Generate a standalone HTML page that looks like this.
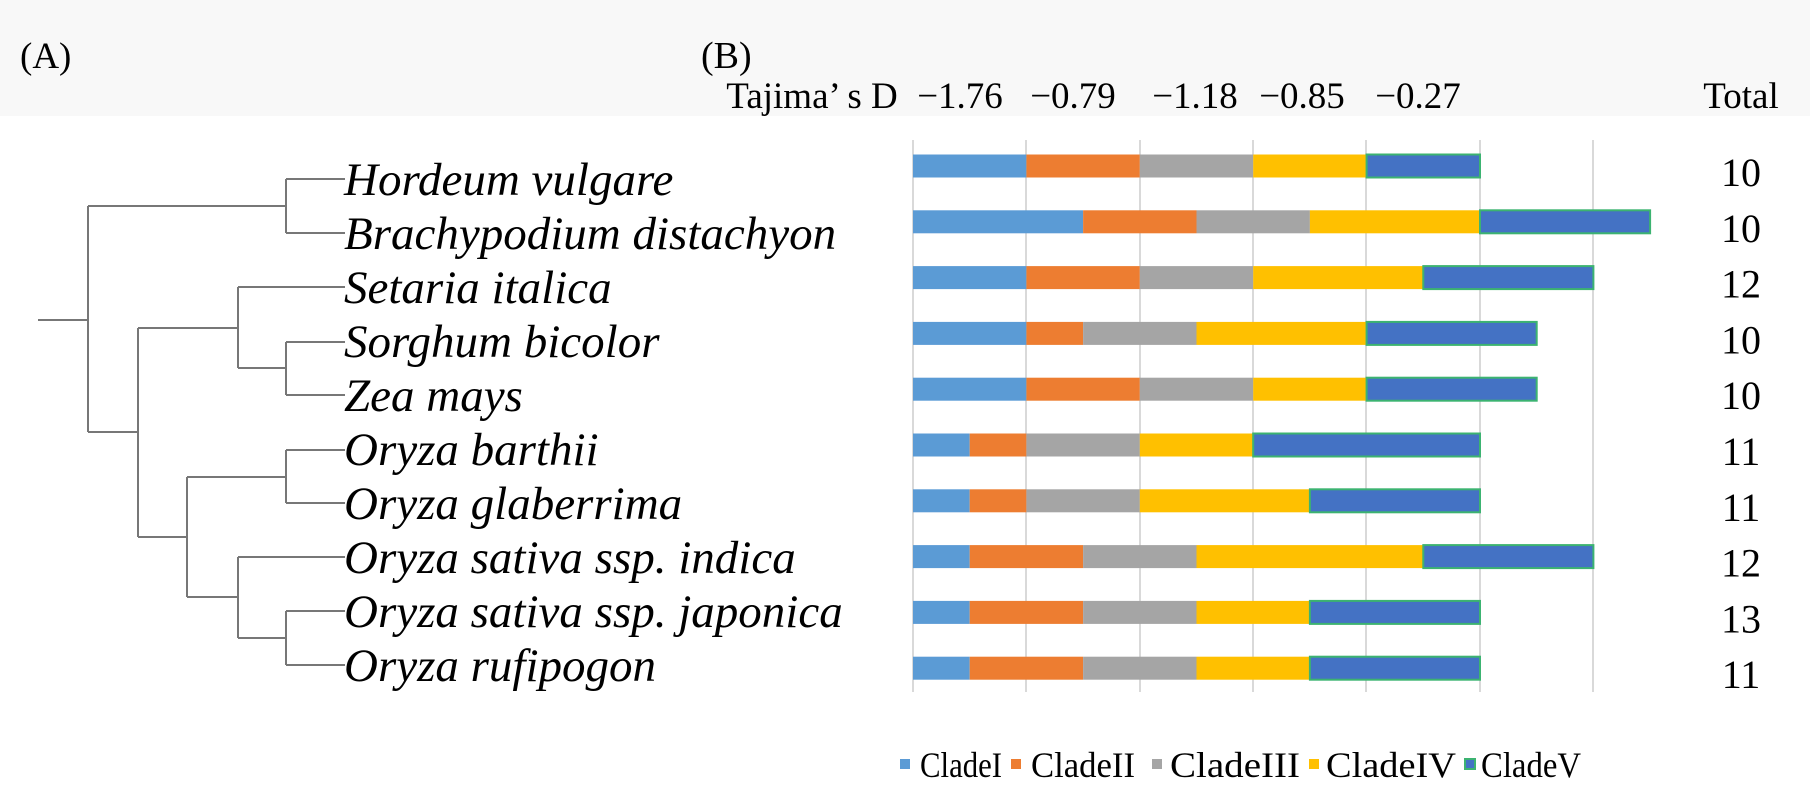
<!DOCTYPE html>
<html><head><meta charset="utf-8"><style>
html,body{margin:0;padding:0;background:#fff;}
svg{display:block;font-family:"Liberation Serif",serif;}
</style></head><body>
<svg width="1810" height="802" viewBox="0 0 1810 802" xmlns="http://www.w3.org/2000/svg">
<rect x="0" y="0" width="1810" height="116" fill="#f8f8f8"/>
<rect x="0" y="116" width="1810" height="686" fill="#fff"/>
<text x="20" y="68" font-size="37">(A)</text>
<text x="701" y="68" font-size="38">(B)</text>
<g font-size="37" text-anchor="middle">
<text x="812" y="108">Tajima’ s D</text>
<text x="960" y="108">−1.76</text>
<text x="1073" y="108">−0.79</text>
<text x="1195" y="108">−1.18</text>
<text x="1302" y="108">−0.85</text>
<text x="1418" y="108">−0.27</text>
<text x="1741" y="108">Total</text>
</g>
<g stroke="#777" stroke-width="2" fill="none">
<path d="M38 320H88M88 206V432M88 206H286M286 179V233M286 179H345M286 233H345"/>
<path d="M88 432H138M138 328V537M138 328H238M238 287V368M238 287H345M238 368H286M286 342V395M286 342H345M286 395H345"/>
<path d="M138 537H187M187 477V597M187 477H286M286 450V503M286 450H345M286 503H345"/>
<path d="M187 597H238M238 557V638M238 557H345M238 638H286M286 611V665M286 611H345M286 665H345"/>
</g>
<g font-size="47" font-style="italic">
<text x="344" y="195">Hordeum vulgare</text>
<text x="344" y="249">Brachypodium distachyon</text>
<text x="344" y="303">Setaria italica</text>
<text x="344" y="357">Sorghum bicolor</text>
<text x="344" y="411">Zea mays</text>
<text x="344" y="465">Oryza barthii</text>
<text x="344" y="519">Oryza glaberrima</text>
<text x="344" y="573">Oryza sativa ssp. indica</text>
<text x="344" y="627">Oryza sativa ssp. japonica</text>
<text x="344" y="681">Oryza rufipogon</text>
</g>
<g stroke="#d9d9d9" stroke-width="2">
<line x1="913" y1="140" x2="913" y2="692"/><line x1="1026" y1="140" x2="1026" y2="692"/>
<line x1="1140" y1="140" x2="1140" y2="692"/><line x1="1253" y1="140" x2="1253" y2="692"/>
<line x1="1366" y1="140" x2="1366" y2="692"/><line x1="1480" y1="140" x2="1480" y2="692"/>
<line x1="1593" y1="140" x2="1593" y2="692"/>
</g>
<g id="bars"></g>
<g font-size="40" text-anchor="middle" id="totals"></g>
<g font-size="36">
<rect x="900" y="759" width="10" height="10" fill="#5b9bd5"/><text x="920" y="777" textLength="82" lengthAdjust="spacingAndGlyphs">CladeI</text>
<rect x="1011" y="759" width="10" height="10" fill="#ed7d31"/><text x="1031" y="777" textLength="104" lengthAdjust="spacingAndGlyphs">CladeII</text>
<rect x="1152" y="759" width="10" height="10" fill="#a5a5a5"/><text x="1170" y="777" textLength="130" lengthAdjust="spacingAndGlyphs">CladeIII</text>
<rect x="1309" y="759" width="10" height="10" fill="#ffc000"/><text x="1326" y="777" textLength="130" lengthAdjust="spacingAndGlyphs">CladeIV</text>
<rect x="1465" y="759" width="10" height="10" fill="#4472c4" stroke="#3cb371" stroke-width="2"/><text x="1481" y="777" textLength="100" lengthAdjust="spacingAndGlyphs">CladeV</text>
</g>
<script>
(function(){
var d=[[2,2,2,2,2],[3,2,2,3,3],[2,2,2,3,3],[2,1,2,3,3],[2,2,2,2,3],[1,1,2,2,4],[1,1,2,3,3],[1,2,2,4,3],[1,2,2,2,3],[1,2,2,2,3]];
var tot=[10,10,12,10,10,11,11,12,13,11];
var c=["#5b9bd5","#ed7d31","#a5a5a5","#ffc000","#4472c4"];
var u=56.7,x0=913,ns="http://www.w3.org/2000/svg";
var g=document.getElementById("bars"),t=document.getElementById("totals");
for(var i=0;i<10;i++){var yc=166+i*55.8,x=x0;
for(var j=0;j<5;j++){var r=document.createElementNS(ns,"rect");var w=d[i][j]*u;
r.setAttribute("x",x);r.setAttribute("y",yc-11.5);r.setAttribute("width",w);r.setAttribute("height",23);r.setAttribute("fill",c[j]);
if(j==4){r.setAttribute("stroke","#3cb371");r.setAttribute("stroke-width","2");}
g.appendChild(r);x+=w;}
var tx=document.createElementNS(ns,"text");tx.setAttribute("x",1741);tx.setAttribute("y",yc+20);tx.textContent=tot[i];t.appendChild(tx);}
})();
</script>
</svg>
</body></html>
